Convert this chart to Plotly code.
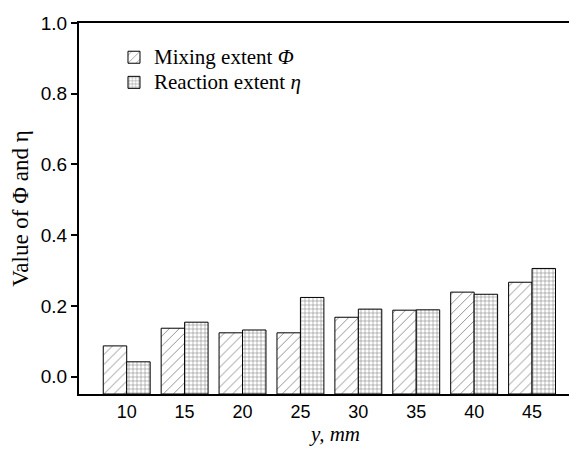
import plotly.graph_objects as go

positions = [10, 15, 20, 25, 30, 35, 40, 45]
mixing_extent = [0.087, 0.137, 0.124, 0.124, 0.168, 0.188, 0.239, 0.267]
reaction_extent = [0.042, 0.154, 0.132, 0.224, 0.191, 0.189, 0.233, 0.306]
y_ticks = [0.0, 0.2, 0.4, 0.6, 0.8, 1.0]
y_min = -0.049

fig = go.Figure()
fig.add_trace(go.Bar(
    x=positions, y=[v - y_min for v in mixing_extent], base=y_min,
    name='<span style="font-size:21px">Mixing extent <i>Φ</i></span>',
    marker=dict(color="white", line=dict(color="black", width=1),
                pattern=dict(shape="/", fgcolor="black", bgcolor="white", size=7, solidity=0.12)),
))
fig.add_trace(go.Bar(
    x=positions, y=[v - y_min for v in reaction_extent], base=y_min,
    name='<span style="font-size:21px">Reaction extent <i>η</i></span>',
    marker=dict(color="white", line=dict(color="black", width=1),
                pattern=dict(shape="+", fgcolor="black", bgcolor="white", size=4, solidity=0.25)),
))

fig.update_layout(
    width=561, height=438,
    margin=dict(l=71, r=0, t=15, b=52),
    paper_bgcolor="white", plot_bgcolor="white",
    barmode="group", bargap=0.19, bargroupgap=0,
    showlegend=True,
    legend=dict(x=0.0714, y=0.955, xanchor="left", yanchor="top",
                font=dict(family="Liberation Serif", size=17, color="black"),
                bgcolor="rgba(0,0,0,0)", tracegroupgap=0, itemwidth=30),
    font=dict(family="Liberation Sans", size=18, color="black"),
    annotations=[dict(text="<i>y, mm</i>", xref="paper", yref="paper", x=0.522, y=0,
                      xanchor="center", yanchor="middle", yshift=-40, showarrow=False,
                      font=dict(family="Liberation Serif", size=21, color="black"))],
)
fig.update_xaxes(
    range=[5.88, 48.19], tickmode="array", tickvals=positions,
    ticktext=[str(p) for p in positions],
    showline=True, linecolor="black", linewidth=2, mirror=True,
    ticks="", showgrid=False, zeroline=False, automargin=False,
    ticklabelstandoff=0,
    tickfont=dict(family="Liberation Sans", size=18),
)
fig.update_yaxes(
    range=[y_min, 1.0], tickmode="array", tickvals=y_ticks,
    ticktext=[f"{t:.1f}" for t in y_ticks],
    showline=True, linecolor="black", linewidth=2,
    ticks="outside", ticklen=6, tickwidth=2, tickcolor="black",
    showgrid=False, zeroline=False, automargin=False,
    tickfont=dict(family="Liberation Sans", size=19),
    title=dict(text="Value of Φ and η", font=dict(family="Liberation Serif", size=23), standoff=8),
)

fig.write_html("out.html")
